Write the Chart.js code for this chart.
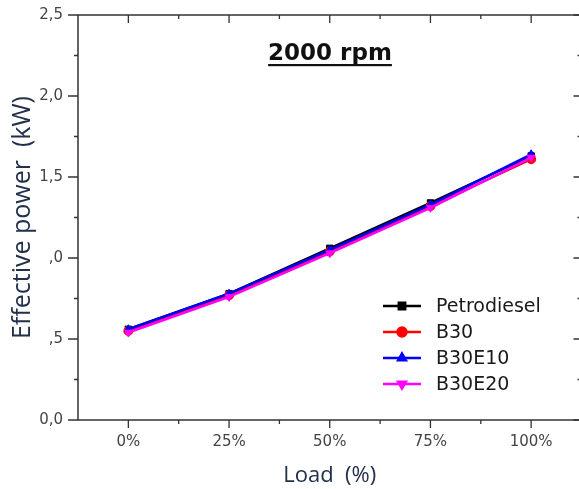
<!DOCTYPE html>
<html>
<head>
<meta charset="utf-8">
<script src="https://cdn.jsdelivr.net/npm/chart.js@4.4.1/dist/chart.umd.min.js"></script>
<style>
html, body { margin: 0; padding: 0; overflow: hidden; background: #fff; }
canvas { display: block; }
</style>
</head>
<body>
<canvas id="powerChart" width="587" height="489"></canvas>
<script>
// engine load steps and effective power (kW) per fuel
const loads = ["0%", "25%", "50%", "75%", "100%"];
const petrodiesel = [0.56, 0.78, 1.06, 1.34, 1.63];
const b30 = [0.55, 0.77, 1.04, 1.32, 1.61];
const b30e10 = [0.56, 0.78, 1.05, 1.33, 1.64];
const b30e20 = [0.54, 0.76, 1.03, 1.31, 1.62];
const yTickLabels = ["0,0", ",5", ",0", "1,5", "2,0", "2,5"];

const AXIS = "#333";

// box frame + origin-style major/minor ticks
const frameTicks = {
    id: "frameTicks",
    beforeDatasetsDraw(chart) {
        const { ctx, chartArea: a, scales: { x, y } } = chart;
        ctx.save();
        ctx.strokeStyle = AXIS;
        ctx.lineWidth = 1.5;
        ctx.strokeRect(a.left, a.top, a.right - a.left, a.bottom - a.top);

        ctx.lineWidth = 1.3;
        ctx.beginPath();
        for (let k = 0; k <= 10; k++) {
            const py = y.getPixelForValue(k * 0.25);
            const major = k % 2 === 0;
            ctx.moveTo(a.left - (major ? 10 : 4), py);
            ctx.lineTo(a.left, py);
            ctx.moveTo(a.right - (major ? 8 : 4), py);
            ctx.lineTo(a.right, py);
        }
        const xs = loads.map((_, i) => x.getPixelForValue(i));
        const minor = xs.slice(1).map((px, i) => (px + xs[i]) / 2);
        xs.forEach(px => {
            ctx.moveTo(px, a.bottom); ctx.lineTo(px, a.bottom + 8);
            ctx.moveTo(px, a.top); ctx.lineTo(px, a.top + 8);
        });
        minor.forEach(px => {
            ctx.moveTo(px, a.bottom); ctx.lineTo(px, a.bottom + 4);
            ctx.moveTo(px, a.top); ctx.lineTo(px, a.top + 4);
        });
        ctx.stroke();
        ctx.restore();
    }
};

// legend inside the plot + underlined heading
const insideLegend = {
    id: "insideLegend",
    afterDraw(chart) {
        const { ctx } = chart;
        ctx.save();

        chart.data.datasets.forEach((ds, i) => {
            const ly = 306 + i * 26;
            ctx.strokeStyle = ds.borderColor;
            ctx.lineWidth = 2.5;
            ctx.beginPath();
            ctx.moveTo(383, ly);
            ctx.lineTo(421, ly);
            ctx.stroke();
            ctx.fillStyle = ds.backgroundColor;
            Chart.helpers.drawPoint(ctx, {
                pointStyle: ds.pointStyle,
                rotation: ds.pointRotation || 0,
                radius: 4.5,
                borderWidth: 1
            }, 402, ly);
            ctx.fillStyle = "#1a1a1a";
            ctx.font = "19px 'DejaVu Sans'";
            ctx.textBaseline = "middle";
            ctx.textAlign = "left";
            ctx.fillText(ds.label, 436, ly + 1);
        });

        const cx = 330;
        ctx.font = "bold 23px 'DejaVu Sans'";
        ctx.fillStyle = "#111";
        ctx.textAlign = "center";
        ctx.textBaseline = "alphabetic";
        ctx.fillText("2000 rpm", cx, 60);
        const w = ctx.measureText("2000 rpm").width;
        ctx.fillRect(cx - w / 2, 64, w, 2.2);
        ctx.restore();
    }
};

function series(label, data, color, style, extra) {
    return Object.assign({
        label: label,
        data: data,
        borderColor: color,
        backgroundColor: color,
        borderWidth: 2.5,
        pointStyle: style,
        pointRadius: 4.5,
        pointBorderWidth: 1,
        tension: 0
    }, extra);
}

new Chart(document.getElementById("powerChart"), {
    type: "line",
    data: {
        labels: loads,
        datasets: [
            series("Petrodiesel", petrodiesel, "#000000", "rect", { order: 4 }),
            series("B30", b30, "#ff0000", "circle", { order: 3 }),
            series("B30E10", b30e10, "#0000ff", "triangle", { order: 2 }),
            series("B30E20", b30e20, "#ff00ff", "triangle", { order: 1, pointRotation: 180 })
        ]
    },
    options: {
        responsive: false,
        animation: false,
        layout: { padding: { top: 15, right: 4, left: 0, bottom: 0 } },
        plugins: {
            legend: { display: false },
            tooltip: { enabled: false }
        },
        scales: {
            x: {
                type: "category",
                offset: true,
                grid: { display: false, drawTicks: false },
                border: { display: false },
                ticks: {
                    color: "#444",
                    font: { family: "DejaVu Sans", size: 15 },
                    padding: 13,
                    maxRotation: 0
                },
                title: {
                    display: true,
                    text: "Load  (%)",
                    color: "#22304a",
                    font: { family: "Open Sans", size: 22 },
                    padding: { top: 1, bottom: 0 }
                },
                afterFit(s) { s.height = 69; }
            },
            y: {
                min: 0,
                max: 2.5,
                grid: { display: false, drawTicks: false },
                border: { display: false },
                ticks: {
                    stepSize: 0.5,
                    color: "#444",
                    font: { family: "DejaVu Sans", size: 15 },
                    padding: 15,
                    callback: (v, i) => yTickLabels[i]
                },
                title: {
                    display: true,
                    text: "Effective power  (kW)",
                    color: "#22304a",
                    font: { family: "Open Sans", size: 25 },
                    padding: { top: 8, bottom: 0 }
                },
                afterFit(s) {
                    s.width = 78;
                    s.paddingTop = 0;
                    s.paddingBottom = 0;
                }
            }
        }
    },
    plugins: [frameTicks, insideLegend]
});
</script>
</body>
</html>
